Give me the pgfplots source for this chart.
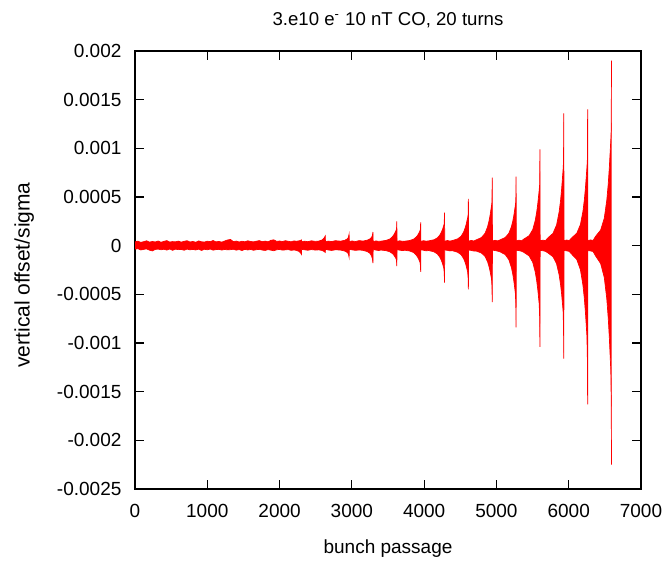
\documentclass[border=0pt]{standalone}
\usepackage{fontspec}
\setmainfont{Liberation Sans}
\usepackage{pgfplots}
\pgfplotsset{compat=1.18}
\usepackage{pgfplotstable}
\usepgfplotslibrary{fillbetween}

\pgfplotstableread{
x hi lo
0 3.9e-5 -3.6e-5
40 4.6e-5 -3.1e-5
80 3.4e-5 -4.4e-5
120 4.1e-5 -3.8e-5
160 5.0e-5 -3.3e-5
200 3.6e-5 -4.6e-5
240 4.3e-5 -5.4e-5
280 3.8e-5 -3.9e-5
320 4.8e-5 -3.5e-5
360 3.5e-5 -4.2e-5
400 4.4e-5 -3.7e-5
440 5.2e-5 -4.5e-5
480 3.7e-5 -3.4e-5
520 4.2e-5 -4.8e-5
560 3.9e-5 -3.6e-5
600 4.7e-5 -4.1e-5
640 3.6e-5 -3.9e-5
680 4.5e-5 -4.7e-5
720 5.1e-5 -3.5e-5
760 3.8e-5 -4.3e-5
800 4.3e-5 -3.8e-5
840 3.5e-5 -4.4e-5
880 4.9e-5 -3.6e-5
920 4.0e-5 -4.9e-5
960 3.7e-5 -3.7e-5
1000 4.6e-5 -4.2e-5
1040 4.1e-5 -3.5e-5
1080 5.3e-5 -4.6e-5
1120 3.9e-5 -4.0e-5
1160 4.4e-5 -3.8e-5
1200 3.6e-5 -4.5e-5
1240 4.8e-5 -3.9e-5
1280 5.8e-5 -4.3e-5
1320 6.4e-5 -4.1e-5
1360 4.2e-5 -3.7e-5
1400 4.7e-5 -4.6e-5
1440 3.8e-5 -4.0e-5
1480 4.5e-5 -5.0e-5
1520 4.0e-5 -3.8e-5
1560 5.0e-5 -4.4e-5
1600 4.3e-5 -3.9e-5
1640 3.9e-5 -4.7e-5
1680 4.6e-5 -4.1e-5
1720 5.2e-5 -3.8e-5
1760 4.1e-5 -4.5e-5
1800 4.7e-5 -4.9e-5
1840 4.0e-5 -4.0e-5
1880 5.5e-5 -4.6e-5
1920 6.0e-5 -5.2e-5
1960 4.4e-5 -4.2e-5
2000 4.8e-5 -3.9e-5
2040 4.2e-5 -4.6e-5
2080 5.1e-5 -4.3e-5
2120 4.5e-5 -4.0e-5
2160 4.0e-5 -4.8e-5
2200 4.9e-5 -4.4e-5
2232 4.5e-5 -4.8e-5
2272 5.0e-5 -6.0e-5
2292 5.5e-5 -7.5e-5
2302 6.0e-5 -9.0e-5
2305 4.0e-5 -3.8e-5
2342 4.6e-5 -4.2e-5
2392 4.1e-5 -4.7e-5
2442 5.0e-5 -4.0e-5
2492 4.4e-5 -4.5e-5
2542 4.7e-5 -4.3e-5
2592 6.0e-5 -5.0e-5
2617 8.0e-5 -6.0e-5
2632 10.0e-5 -7.0e-5
2635 3.9e-5 -3.6e-5
2672 4.7e-5 -4.4e-5
2722 4.2e-5 -4.9e-5
2772 5.1e-5 -4.2e-5
2842 4.6e-5 -4.5e-5
2902 5.5e-5 -5.5e-5
2937 7.0e-5 -7.0e-5
2952 8.5e-5 -8.5e-5
2962 12.0e-5 -12.0e-5
2965 4.2e-5 -3.8e-5
3002 4.8e-5 -4.3e-5
3052 4.3e-5 -4.8e-5
3102 5.2e-5 -4.4e-5
3152 4.7e-5 -4.8e-5
3212 5.6e-5 -6.0e-5
3252 7.0e-5 -8.0e-5
3272 8.5e-5 -10.5e-5
3284 10.5e-5 -13.5e-5
3292 14.0e-5 -18.0e-5
3295 4.0e-5 -4.0e-5
3332 4.9e-5 -4.5e-5
3370 4.4e-5 -5.0e-5
3402 4.6e-5 -4.5e-5
3472 5.4e-5 -5.1e-5
3522 6.7e-5 -6.2e-5
3557 8.8e-5 -7.9e-5
3577 10.7e-5 -9.4e-5
3592 12.6e-5 -11.0e-5
3604 14.5e-5 -12.5e-5
3612 15.8e-5 -13.5e-5
3618 17.0e-5 -15.9e-5
3622 25.0e-5 -21.0e-5
3625 4.3e-5 -4.1e-5
3662 5.0e-5 -4.6e-5
3697 4.5e-5 -5.1e-5
3732 4.6e-5 -4.7e-5
3802 5.3e-5 -5.5e-5
3852 6.6e-5 -7.0e-5
3887 8.6e-5 -9.3e-5
3907 10.4e-5 -11.4e-5
3922 12.2e-5 -13.4e-5
3934 14.0e-5 -15.5e-5
3942 15.2e-5 -16.9e-5
3948 16.4e-5 -20.1e-5
3952 24.0e-5 -27.0e-5
3955 4.4e-5 -4.2e-5
3992 5.1e-5 -4.7e-5
4027 4.6e-5 -5.3e-5
4062 4.9e-5 -5.0e-5
4132 6.0e-5 -6.2e-5
4182 7.9e-5 -8.4e-5
4217 10.9e-5 -11.8e-5
4237 13.6e-5 -14.9e-5
4252 16.3e-5 -17.9e-5
4264 19.0e-5 -21.0e-5
4272 20.8e-5 -23.0e-5
4278 22.6e-5 -27.8e-5
4282 34.0e-5 -38.0e-5
4285 4.5e-5 -4.4e-5
4322 5.3e-5 -4.8e-5
4357 4.7e-5 -5.4e-5
4392 5.3e-5 -5.2e-5
4462 6.9e-5 -6.7e-5
4512 9.7e-5 -9.3e-5
4547 14.1e-5 -13.4e-5
4567 18.1e-5 -17.1e-5
4582 22.0e-5 -20.8e-5
4594 26.0e-5 -24.5e-5
4602 28.6e-5 -27.0e-5
4608 31.3e-5 -32.7e-5
4612 48.0e-5 -45.0e-5
4615 4.6e-5 -4.5e-5
4652 5.4e-5 -4.9e-5
4687 4.8e-5 -5.5e-5
4722 6.0e-5 -5.6e-5
4792 8.3e-5 -7.5e-5
4842 12.6e-5 -11.0e-5
4877 19.2e-5 -16.4e-5
4897 25.1e-5 -21.3e-5
4912 31.1e-5 -26.1e-5
4924 37.0e-5 -31.0e-5
4932 41.0e-5 -34.2e-5
4938 44.9e-5 -41.8e-5
4942 70.0e-5 -58.0e-5
4945 4.8e-5 -4.6e-5
4982 5.5e-5 -5.0e-5
5017 4.9e-5 -5.6e-5
5052 6.0e-5 -6.4e-5
5122 8.4e-5 -9.2e-5
5172 12.7e-5 -14.4e-5
5207 19.4e-5 -22.4e-5
5227 25.4e-5 -29.6e-5
5242 31.5e-5 -36.8e-5
5254 37.5e-5 -44.0e-5
5262 41.5e-5 -48.8e-5
5268 45.5e-5 -60.0e-5
5272 71.0e-5 -84.0e-5
5275 4.9e-5 -4.7e-5
5312 5.6e-5 -5.1e-5
5347 5.0e-5 -5.7e-5
5382 6.9e-5 -7.0e-5
5452 10.2e-5 -10.5e-5
5502 16.4e-5 -17.0e-5
5537 25.9e-5 -27.0e-5
5557 34.4e-5 -36.0e-5
5572 43.0e-5 -45.0e-5
5584 51.5e-5 -54.0e-5
5592 57.2e-5 -60.0e-5
5598 62.9e-5 -74.0e-5
5602 99.0e-5 -104.0e-5
5605 5.0e-5 -4.8e-5
5642 5.7e-5 -5.2e-5
5677 5.1e-5 -5.8e-5
5712 8.0e-5 -7.4e-5
5782 12.6e-5 -11.3e-5
5832 21.2e-5 -18.6e-5
5867 34.4e-5 -29.8e-5
5887 46.2e-5 -39.8e-5
5902 58.1e-5 -49.9e-5
5914 70.0e-5 -60.0e-5
5922 77.9e-5 -66.7e-5
5928 85.8e-5 -82.4e-5
5932 136.0e-5 -116.0e-5
5935 5.1e-5 -4.9e-5
5972 5.8e-5 -5.3e-5
6007 5.2e-5 -5.9e-5
6042 8.1e-5 -8.8e-5
6112 12.8e-5 -14.3e-5
6162 21.7e-5 -24.7e-5
6197 35.3e-5 -40.6e-5
6217 47.5e-5 -54.9e-5
6232 59.8e-5 -69.2e-5
6244 72.0e-5 -83.5e-5
6252 80.2e-5 -93.0e-5
6258 88.3e-5 -115.3e-5
6262 140.0e-5 -163.0e-5
6265 5.2e-5 -5.0e-5
6302 5.9e-5 -5.4e-5
6337 5.3e-5 -6.0e-5
6372 9.6e-5 -10.6e-5
6442 16.1e-5 -18.4e-5
6492 28.2e-5 -32.7e-5
6527 46.8e-5 -54.8e-5
6547 63.5e-5 -74.7e-5
6562 80.3e-5 -94.6e-5
6574 97.0e-5 -114.5e-5
6582 108.2e-5 -127.8e-5
6588 119.3e-5 -158.7e-5
6592 190.0e-5 -225.0e-5
}\data

\begin{document}
\begin{tikzpicture}
\begin{axis}[
  scale only axis,
  width=253pt, height=219pt,
  xmin=0, xmax=7000, ymin=-0.0025, ymax=0.002,
  xtick={0,1000,2000,3000,4000,5000,6000,7000},
  ytick={-0.0025,-0.002,-0.0015,-0.001,-0.0005,0,0.0005,0.001,0.0015,0.002},
  scaled ticks=false,
  /pgf/number format/assume math mode=true,
  /pgf/number format/.cd, fixed, precision=4, 1000 sep={},
  /pgfplots/.cd,
  tick align=inside,
  major tick length=4.5pt,
  tick style={black, line width=0.6pt},
  axis line style={line width=0.8pt},
  tick label style={font=\fontsize{9.5}{11}\selectfont},
  yticklabel style={xshift=-3.25pt},
  xticklabel style={yshift=-4pt},
  title={3.e10 e\textsuperscript{-} 10 nT CO, 20 turns},
  every axis title/.style={at={(axis description cs:0.5,1)}, anchor=base, yshift=12.5pt, font=\fontsize{9.3}{11}\selectfont},
  xlabel={bunch passage},
  xlabel style={at={(axis description cs:0.5,-0.135)}, anchor=center, font=\fontsize{9.5}{11}\selectfont},
  ylabel={vertical offset/sigma},
  ylabel style={at={(axis description cs:-0.219,0.4886)}, anchor=center, font=\fontsize{10.5}{12}\selectfont},
]
\addplot[name path=hi, red, line width=0.35pt] table[x=x, y=hi] {\data};
\addplot[name path=lo, red, line width=0.35pt] table[x=x, y=lo] {\data};
\addplot[fill=red, draw=none] fill between[of=hi and lo];
\coordinate (SW) at (rel axis cs:0,0);
\coordinate (NE) at (rel axis cs:1,1);
\end{axis}
\path ([shift={(-67.5pt,-35pt)}]SW) rectangle ([shift={(15.5pt,25.5pt)}]NE);
\end{tikzpicture}
\end{document}
